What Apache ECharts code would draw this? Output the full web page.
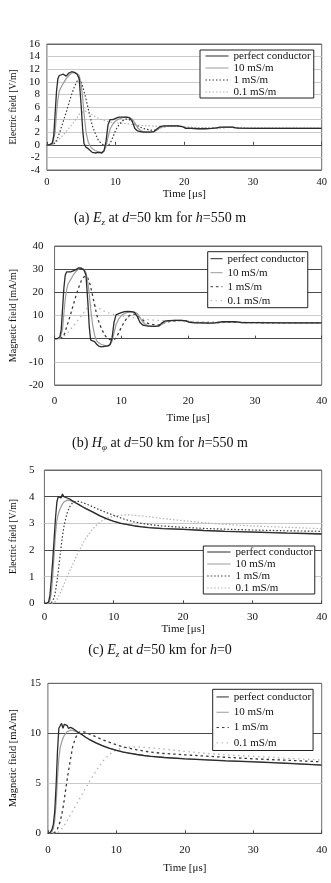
<!DOCTYPE html>
<html><head><meta charset="utf-8">
<script src="https://cdn.jsdelivr.net/npm/echarts@6/dist/echarts.min.js"></script>
<style>html,body{margin:0;padding:0;background:#fff}#c{width:331px;height:883px}</style>
</head><body><div id="c"></div>
<script>
const seriesNames = ['perfect conductor','10 mS/m','1 mS/m','0.1 mS/m'];
const xTicks = [0,10,20,30,40];

// panels (a) and (b): time [us]
const tAB = [0,0.4,0.8,1.0,1.2,1.4,1.6,1.8,2.0,2.4,2.8,3.2,3.6,4.0,4.4,4.7,5.0,5.2,5.4,5.7,6.0,6.3,6.6,7.0,7.5,8.0,8.3,8.6,8.9,9.2,9.6,10.0,10.5,11.0,11.5,12.0,12.4,12.8,13.2,13.6,14.0,15.0,15.6,16.0,16.5,17.0,18,19,19.7,20.2,21,22,23,24,24.7,25.2,26,27,27.5,28,30,35,40];
// (a) Ez, h=550 m [V/m]
const aPC = [0,0,0.3,1.5,5,8.5,10.5,11.0,10.8, 11.2,10.9,11.4,11.6,11.5,11.2,10.5, 6.0,2.5,0.2,-0.4,-0.6,-0.9,-1.2, -1.3,-1.2,-1.3,-1.0,0.5,3.2,4.0,4.0, 4.2,4.4,4.4,4.4,4.3,3.8,2.6,2.2,2.1, 2.0,2.0,2.1,2.5,2.9,3.0, 3.0,3.0,2.9,2.6, 2.6,2.55,2.55,2.6,2.7,2.8, 2.8,2.8,2.7,2.65,2.6,2.6,2.6];
const a10 = [0,0,0,0.3,2,5,7.2,8.5,9.0, 9.8,10.5,11.0,11.4,11.5,11.3,11.0, 9.5,7.5,5.0,2.0,0.5,-0.2,-0.6, -0.9,-1.1,-1.2,-1.0,-0.3,1.2,2.5,3.3, 3.8,4.1,4.3,4.4,4.3,4.1,3.5,2.7,2.3, 2.1,2.0,2.1,2.3,2.7,2.9, 3.0,3.0,2.9,2.7, 2.6,2.55,2.55,2.6,2.65,2.75, 2.8,2.8,2.75,2.65,2.6,2.6,2.6];
const a1 = [0,0,0,0.1,0.3,0.6,1.2,1.8,2.4, 3.8,5.1,6.6,8.0,9.2,10.1,10.4, 10.0,9.3,8.5,7.2,5.8,4.4,3.1, 1.9,0.7,0.1,0,-0.1,-0.1,0.2,1.2, 2.3,3.2,3.8,4.1,4.0,3.7,3.3,3.0,2.8, 2.6,2.35,2.3,2.5,2.7,2.85, 2.95,3.0,2.9,2.75, 2.65,2.6,2.6,2.6,2.65,2.7, 2.75,2.75,2.7,2.65,2.6,2.6,2.6];
const a01 = [0,0,0.1,0.2,0.3,0.5,0.7,0.9,1.1, 1.6,2.1,2.6,3.1,3.7,4.3,4.8, 5.1,5.2,5.3,5.3,5.2,5.0,4.8, 4.5,4.2,4.0,3.9,3.8,3.7,3.6,3.55, 3.5,3.45,3.4,3.35,3.3,3.25,3.2,3.15,3.1, 3.05,3.0,2.95,2.95,2.95,2.95, 2.95,2.9,2.9,2.85, 2.8,2.75,2.75,2.75,2.75,2.75, 2.75,2.75,2.7,2.7,2.65,2.65,2.6];
// (b) H_phi, h=550 m [mA/m]
const bPC = [0,0,0.8,4,13,22,27.5,28.8,29.0, 28.8,29.3,29.8,30.6,30.4,29.6,27.5, 15,5,-0.5,-1.0,-1.3,-2.4,-3.2, -3.5,-3.3,-3.1,-2.5,0,7,10.3,10.8, 11.2,11.7,11.8,11.7,11.3,9.5,7.0,5.9,5.6, 5.4,5.3,5.5,6.6,7.6,7.8, 7.9,7.9,7.7,7.0, 6.8,6.8,6.7,6.8,7.1,7.3, 7.3,7.3,7.1,6.9,6.9,6.8,6.8];
const b10 = [0,0,0,0.5,4,11,17,21,23.5, 25.5,27.5,29,30,30.5,30,28.5, 24,19,13,6,1.5,-0.8,-1.8, -2.5,-2.9,-3.1,-2.8,-1.2,2.5,6,8.5, 10,10.9,11.4,11.6,11.4,10.8,9.0,7.2,6.2, 5.7,5.3,5.4,6.0,7.0,7.6, 7.9,7.9,7.7,7.2, 6.9,6.8,6.7,6.8,7.0,7.2, 7.3,7.3,7.1,6.9,6.9,6.8,6.8];
const b1 = [0,0,0,0.2,0.6,1.5,3,5,6.8, 10.5,14.5,18.5,22,25,26.7,27.0, 26,24.5,22.5,18.5,14.5,10.5,7.5, 4.5,1.5,0,-0.4,-0.5,-0.4,0.2,2.5, 5,7.5,9.5,10.5,10.6,10.0,9.0,8.0,7.2, 6.6,5.9,5.9,6.3,6.9,7.3, 7.7,7.8,7.7,7.3, 7.0,6.9,6.8,6.8,6.9,7.1, 7.2,7.2,7.1,7.0,6.9,6.8,6.8];
const b01 = [0,0,0.2,0.4,0.7,1.1,1.6,2.1,2.7, 4.0,5.4,6.8,8.3,9.8,11.3,12.5, 13.5,14.0,14.3,14.4,14.2,13.8,13.2, 12.5,11.8,11.2,10.9,10.6,10.4,10.2,10.0, 9.8,9.6,9.4,9.2,9.0,8.9,8.7,8.5,8.4, 8.2,8.0,7.9,7.9,7.8,7.8, 7.7,7.6,7.6,7.5, 7.4,7.3,7.3,7.2,7.2,7.2, 7.2,7.2,7.1,7.1,7.0,6.9,6.8];

// panels (c) and (d): time [us]
const tCD = [0,0.3,0.6,0.8,1.0,1.2,1.4,1.6,1.8,2.0,2.2,2.4,2.6,2.8,3.0,3.3,3.6,4.0,4.5,5,5.5,6,7,8,9,10,11,12,13,14,15,17,20,23,26,30,35,40];
// (c) Ez, h=0 [V/m]
const cPC = [0,0,0.05,0.3,0.9, 1.6,2.4,3.2,3.8,4.0, 3.95,3.95,4.1,4.0,4.05, 3.95,3.92,3.85,3.77,3.7, 3.62,3.55,3.42,3.28,3.17, 3.07,3.0,2.95,2.9,2.87, 2.84,2.8,2.77,2.73,2.7, 2.67,2.63,2.6];
const c10 = [0,0,0,0.1,0.4, 1.0,1.8,2.6,3.1,3.35, 3.5,3.62,3.72,3.8,3.85, 3.87,3.86,3.83,3.76,3.69, 3.62,3.55,3.42,3.29,3.18, 3.08,3.01,2.96,2.91,2.88, 2.85,2.81,2.78,2.74,2.71, 2.68,2.64,2.61];
const c1 = [0,0,0,0,0.02, 0.08,0.2,0.45,0.8,1.2, 1.65,2.1,2.5,2.85,3.1, 3.4,3.6,3.75,3.83,3.82, 3.78,3.73,3.62,3.5,3.4, 3.3,3.2,3.12,3.05,3.0, 2.96,2.9,2.85,2.81,2.78, 2.75,2.72,2.7];
const c01 = [0,0,0,0,0, 0,0.02,0.05,0.12,0.25, 0.35,0.45,0.57,0.7,0.82, 1.0,1.2,1.4,1.7,1.97, 2.22,2.45,2.8,3.05,3.2, 3.27,3.31,3.32,3.3,3.28, 3.25,3.18,3.1,3.02,2.96, 2.9,2.85,2.8];
// (d) H_phi, h=0 [mA/m]
const dPC = [0,0.05,0.4,0.9,2.2, 4.8,8.2,10.5,10.7,11.0, 10.5,10.9,11.0,10.8,10.5, 10.6,10.5,10.3,10.05,9.85, 9.6,9.4,9.05,8.75,8.5, 8.3,8.12,8.0,7.88,7.78, 7.7,7.58,7.45,7.35,7.25, 7.15,7.0,6.82];
const d10 = [0,0,0.15,0.5,1.3, 3.0,5.5,7.5,8.6,9.1, 9.5,9.8,10.0,10.15,10.25, 10.3,10.3,10.2,10.05,9.85, 9.62,9.42,9.07,8.77,8.52, 8.32,8.14,8.01,7.9,7.8, 7.72,7.6,7.47,7.37,7.27, 7.17,7.02,6.84];
const d1 = [0,0,0,0.02,0.08, 0.2,0.45,0.8,1.2,1.8, 2.5,3.4,4.4,5.3,6.2, 7.4,8.6,9.5,10.1,10.2, 10.1,9.95,9.65,9.35,9.1, 8.85,8.65,8.5,8.35,8.22, 8.12,7.98,7.85,7.72,7.6, 7.45,7.3,7.15];
const d01 = [0,0,0,0,0, 0,0.05,0.12,0.25,0.4, 0.6,0.8,1.0,1.25,1.5, 1.85,2.2,2.7,3.3,3.9, 4.5,5.1,6.2,7.2,7.9, 8.35,8.55,8.65,8.65,8.6, 8.55,8.42,8.2,8.0,7.85, 7.7,7.5,7.32];

const yTicksA = [-4,-2,0,2,4,6,8,10,12,14,16];
const yTicksB = [-20,-10,0,10,20,30,40];
const yTicksC = [0,1,2,3,4,5];
const yTicksD = [0,5,10,15];

const FONT = '"Liberation Serif","Times New Roman",serif';
const LIGHT = '#cacaca', DARK = '#4a4a4a', BORDER = '#6a6a6a';
const STYLE_FINE = [
  {color:'#2b2b2b', width:1.3, type:'solid'},
  {color:'#9c9c9c', width:1.2, type:'solid'},
  {color:'#3a3a3a', width:1.2, type:[1.5,2]},
  {color:'#b2b2b2', width:1.2, type:[1.5,2]}
];
const STYLE_COARSE = [
  {color:'#2b2b2b', width:1.3, type:'solid'},
  {color:'#9c9c9c', width:1.2, type:'solid'},
  {color:'#3a3a3a', width:1.3, type:[2.5,3]},
  {color:'#b2b2b2', width:1.3, type:[1.5,3.5]}
];

const panels = [
  {t:tAB, vals:[aPC,a10,a1,a01], yt:yTicksA, yName:'Electric field [V/m]', st:STYLE_FINE,
   grid:{left:39.3,top:44,width:282.4,height:126}, zeroAxis:true,
   split:[BORDER,LIGHT,DARK,LIGHT,LIGHT,LIGHT,LIGHT,LIGHT,LIGHT,LIGHT,BORDER],
   yLM:7, yNG:26, yNS:9.5, xLM:7, xNG:17, xLS:10.5,
   lg:{left:200,top:50,padding:[0,3,0,5],itemWidth:23,itemHeight:12}},
  {t:tAB, vals:[bPC,b10,b1,b01], yt:yTicksB, yName:'Magnetic field [mA/m]', st:STYLE_COARSE,
   grid:{left:46,top:246,width:275.7,height:139}, zeroAxis:true,
   split:[BORDER,LIGHT,DARK,LIGHT,DARK,DARK,BORDER],
   yLM:11, yNG:30, yNS:10, xLM:11, xNG:28, xLS:11,
   lg:{left:207.7,top:251.7,padding:[0,3,0,2.3],itemWidth:12,itemHeight:14}},
  {t:tCD, vals:[cPC,c10,c1,c01], yt:yTicksC, yName:'Electric field [V/m]', st:STYLE_FINE,
   grid:{left:35,top:470,width:286.7,height:133.3}, zeroAxis:false,
   split:[DARK,LIGHT,DARK,LIGHT,DARK,BORDER],
   yLM:10, yNG:22, yNS:9.5, xLM:8, xNG:18, xLS:11,
   lg:{left:203.3,top:546,padding:[0,2,0,3.4],itemWidth:23.3,itemHeight:12}},
  {t:tCD, vals:[dPC,d10,d1,d01], yt:yTicksD, yName:'Magnetic field [mA/m]', st:STYLE_COARSE,
   grid:{left:42,top:683.3,width:279.7,height:150}, zeroAxis:false,
   split:[DARK,LIGHT,DARK,BORDER],
   yLM:7, yNG:25, yNS:10.5, xLM:11, xNG:29, xLS:11,
   lg:{left:212.7,top:689.3,padding:[0,2,0,3.3],itemWidth:12.3,itemHeight:15.3}}
];

const option = {animation:false, backgroundColor:'#fff', grid:[], xAxis:[], yAxis:[], series:[], legend:[], graphic:[]};
panels.forEach((p, gi) => {
  option.grid.push(Object.assign({show:true, borderColor:BORDER, borderWidth:1, backgroundColor:'transparent'}, p.grid));
  const xi = option.xAxis.length;
  option.xAxis.push({
    type:'value', gridIndex:gi, min:xTicks[0], max:xTicks[xTicks.length-1], interval:xTicks[1]-xTicks[0],
    position:'bottom',
    axisLine:{show:!p.zeroAxis, onZero:false, lineStyle:{color:DARK, width:1}},
    axisTick:{show:!p.zeroAxis, inside:true, length:3, lineStyle:{color:DARK}},
    axisLabel:{fontFamily:FONT, fontSize:p.xLS, color:'#111', margin:p.xLM},
    splitLine:{show:false},
    name:'Time [μs]', nameLocation:'middle', nameGap:p.xNG,
    nameTextStyle:{fontFamily:FONT, fontSize:11, color:'#111'}
  });
  if (p.zeroAxis) {
    option.xAxis.push({
      type:'value', gridIndex:gi, min:xTicks[0], max:xTicks[xTicks.length-1], interval:xTicks[1]-xTicks[0],
      position:'top',
      axisLine:{show:true, onZero:true, lineStyle:{color:DARK, width:1}},
      axisTick:{show:true, inside:false, length:3, lineStyle:{color:DARK}},
      axisLabel:{show:false}, splitLine:{show:false}
    });
  }
  option.yAxis.push({
    type:'value', gridIndex:gi, min:p.yt[0], max:p.yt[p.yt.length-1], interval:p.yt[1]-p.yt[0],
    axisLine:{show:false}, axisTick:{show:false},
    axisLabel:{fontFamily:FONT, fontSize:11, color:'#111', margin:p.yLM},
    splitLine:{show:true, lineStyle:{color:p.split, width:1}},
    name:p.yName, nameLocation:'middle', nameGap:p.yNG,
    nameTextStyle:{fontFamily:FONT, fontSize:p.yNS, color:'#111'}
  });
  p.vals.forEach((v, si) => {
    option.series.push({
      type:'line', name:seriesNames[si], xAxisIndex:xi, yAxisIndex:gi,
      data:p.t.map((t, k) => [t, v[k]]),
      symbol:'none', showSymbol:false, smooth:false, silent:true,
      lineStyle:{color:p.st[si].color, width:p.st[si].width, type:p.st[si].type},
      itemStyle:{color:p.st[si].color},
      z:10-si
    });
  });
  option.legend.push(Object.assign({
    orient:'vertical', itemGap:0, borderColor:'#222', borderWidth:1, borderRadius:0,
    backgroundColor:'#fff', selectedMode:false,
    data:seriesNames.map((n, si) => ({name:n,
      lineStyle:{color:p.st[si].color, width:1, type:p.st[si].type}})),
    itemStyle:{opacity:0},
    textStyle:{fontFamily:FONT, fontSize:11, color:'#111', lineHeight:p.lg.itemHeight}
  }, p.lg));
});

const capRich = {
  n:{fontFamily:FONT, fontSize:14, lineHeight:18, fill:'#111'},
  i:{fontFamily:FONT, fontSize:14, lineHeight:18, fontStyle:'italic', fill:'#111'},
  s:{fontFamily:FONT, fontSize:9, lineHeight:9, verticalAlign:'bottom', fontStyle:'italic', fill:'#111'}
};
const captions = [
  {y:218, text:'{n|(a) }{i|E}{s|z}{n| at }{i|d}{n|=50 km for }{i|h}{n|=550 m}'},
  {y:443, text:'{n|(b) }{i|H}{s|φ}{n| at }{i|d}{n|=50 km for }{i|h}{n|=550 m}'},
  {y:650, text:'{n|(c) }{i|E}{s|z}{n| at }{i|d}{n|=50 km for }{i|h}{n|=0}'}
];
captions.forEach(c => option.graphic.push({type:'text', x:160, y:c.y, z:100,
  style:{text:c.text, rich:capRich, align:'center', verticalAlign:'middle', fill:'#111', fontFamily:FONT, fontSize:14}}));

const chart = echarts.init(document.getElementById('c'), null, {renderer:'canvas'});
chart.setOption(option);
</script></body></html>
